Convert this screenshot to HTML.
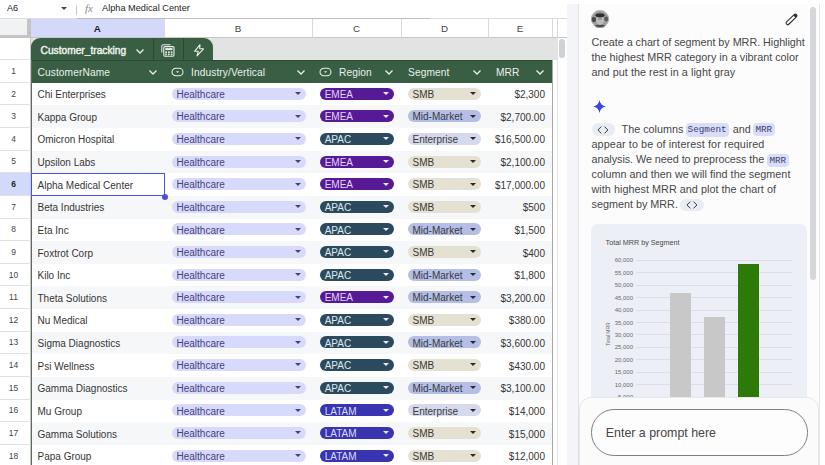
<!DOCTYPE html>
<html><head><meta charset="utf-8"><style>
*{box-sizing:border-box;margin:0;padding:0}
html,body{width:825px;height:465px;overflow:hidden;background:#fff;font-family:"Liberation Sans",sans-serif}
#sheet{position:absolute;left:0;top:0;width:567px;height:465px;overflow:hidden;background:#fff}
.rh{position:absolute;left:0;width:31px;padding-right:3px;font-size:8.5px;text-align:center;border-bottom:1px solid #e1e1e1;border-right:1px solid #c7c7c7;display:flex;align-items:center;justify-content:center}
.colh{position:absolute;top:19px;height:18.5px;padding-top:2.4px;font-size:9.8px;color:#444;display:flex;align-items:center;justify-content:center;border-right:1px solid #d9d9d9;border-bottom:1px solid #c7c7c7;background:#fff}
.tab{position:absolute;left:31px;width:182px;background:#3a5e44;border-radius:9px 9px 0 0}
.hdr{position:absolute;left:31px;width:521.5px;background:#3a5e44;border-top:1px solid #2b4c34}
.ht{position:absolute;font-size:10.2px;letter-spacing:0.1px;color:#e8f1ea;white-space:nowrap;line-height:13px}
.row{position:absolute;left:31px;width:521.5px;}
.ct{position:absolute;font-size:10px;color:#363636;white-space:nowrap;line-height:13px}
.chip{position:absolute;height:12px;border-radius:6px;font-size:10px;white-space:nowrap}
.chip span{position:absolute;top:0.2px;line-height:13px}
.pl{position:absolute;font-size:10.8px;color:#474747;line-height:15px;white-space:nowrap}
.mono{position:absolute;height:13.3px;border-radius:4px;background:#d9ddfa;color:#394070;font-family:'Liberation Mono',monospace;font-size:9.3px;line-height:14.6px;text-align:center}
.tri{position:absolute;width:0;height:0;border-left:3px solid transparent;border-right:3px solid transparent;border-top:3px solid #333}
</style></head><body>
<div id="sheet">
<!-- top bar -->
<div style="position:absolute;left:0;top:0;width:567px;height:19px;background:#fff"></div><div style="position:absolute;left:0;top:18.2px;width:77px;height:1px;background:#dcdcdc"></div><div style="position:absolute;left:77px;top:18.2px;width:353px;height:1px;background:#bdbdbd"></div><div style="position:absolute;left:430px;top:18.2px;width:137px;height:1px;background:#dedede"></div>
<span style="position:absolute;left:7px;top:3px;font-size:9px;color:#222;line-height:11px">A6</span>
<div class="tri" style="left:60.5px;top:7px;border-top-color:#444;border-left-width:3px;border-right-width:3px;border-top-width:3px"></div>
<div style="position:absolute;left:76px;top:5px;width:1px;height:10px;background:#c8c8c8"></div>
<span style="position:absolute;left:85px;top:2px;font-size:11px;color:#8a8a8a;font-style:italic;font-family:'Liberation Serif',serif;line-height:12px">fx</span>
<span style="position:absolute;left:102px;top:2.5px;font-size:9.2px;color:#222;line-height:11px">Alpha Medical Center</span>
<!-- column headers -->
<div style="position:absolute;left:0;top:19px;width:31px;height:18.6px;background:#f1f2f3"></div>
<div class="colh" style="left:31px;width:133.5px;background:#d3d9fb;font-weight:bold;color:#1f1f1f">A</div>
<div class="colh" style="left:164.5px;width:148px">B</div>
<div class="colh" style="left:312.5px;width:89px">C</div>
<div class="colh" style="left:401.5px;width:87px">D</div>
<div class="colh" style="left:488.5px;width:64px">E</div>
<div class="colh" style="left:552.5px;width:5px"></div><div class="colh" style="left:557.5px;width:10px;border-right:none"></div>
<div style="position:absolute;left:0;top:34.6px;width:31px;height:3px;background:#c4c4c4"></div>
<div style="position:absolute;left:27.2px;top:19px;width:3.5px;height:18.6px;background:#c4c4c4"></div>
<div class="rh" style="top:37.60px;height:22.62px;background:#fff;font-weight:normal;color:#444"></div>
<div class="rh" style="top:60.22px;height:22.62px;background:#fff;font-weight:normal;color:#444">1</div>
<div class="rh" style="top:82.84px;height:22.62px;background:#fff;font-weight:normal;color:#444">2</div>
<div class="rh" style="top:105.46px;height:22.62px;background:#fff;font-weight:normal;color:#444">3</div>
<div class="rh" style="top:128.08px;height:22.62px;background:#fff;font-weight:normal;color:#444">4</div>
<div class="rh" style="top:150.70px;height:22.62px;background:#fff;font-weight:normal;color:#444">5</div>
<div class="rh" style="top:173.32px;height:22.62px;background:#d3d9fb;font-weight:bold;color:#1f1f1f">6</div>
<div class="rh" style="top:195.94px;height:22.62px;background:#fff;font-weight:normal;color:#444">7</div>
<div class="rh" style="top:218.56px;height:22.62px;background:#fff;font-weight:normal;color:#444">8</div>
<div class="rh" style="top:241.18px;height:22.62px;background:#fff;font-weight:normal;color:#444">9</div>
<div class="rh" style="top:263.80px;height:22.62px;background:#fff;font-weight:normal;color:#444">10</div>
<div class="rh" style="top:286.42px;height:22.62px;background:#fff;font-weight:normal;color:#444">11</div>
<div class="rh" style="top:309.04px;height:22.62px;background:#fff;font-weight:normal;color:#444">12</div>
<div class="rh" style="top:331.66px;height:22.62px;background:#fff;font-weight:normal;color:#444">13</div>
<div class="rh" style="top:354.28px;height:22.62px;background:#fff;font-weight:normal;color:#444">14</div>
<div class="rh" style="top:376.90px;height:22.62px;background:#fff;font-weight:normal;color:#444">15</div>
<div class="rh" style="top:399.52px;height:22.62px;background:#fff;font-weight:normal;color:#444">16</div>
<div class="rh" style="top:422.14px;height:22.62px;background:#fff;font-weight:normal;color:#444">17</div>
<div class="rh" style="top:444.76px;height:22.62px;background:#fff;font-weight:normal;color:#444">18</div>
<div style="position:absolute;left:31px;top:37.60px;width:526px;height:22.62px;background:#e3e3e3"></div>
<div class="tab" style="top:38.20px;height:22.02px">
<span style="position:absolute;left:9.6px;top:7.2px;font-size:10.2px;line-height:12px;color:#e9f0ea;-webkit-text-stroke:0.45px #e9f0ea">Customer_tracking</span>
<svg style="position:absolute;left:104px;top:9.5px" width="10" height="7" viewBox="0 0 10 7"><path d="M1.5 1.5 L5 5 L8.5 1.5" stroke="#e8f0ea" stroke-width="1.3" fill="none"/></svg>
<div style="position:absolute;left:121.5px;top:0px;width:1px;height:22px;background:#2b4a34"></div>
<svg style="position:absolute;left:130px;top:5.8px" width="15" height="13" viewBox="0 0 15 13"><path d="M0.8 8.5 V1.8 A1 1 0 0 1 1.8 0.8 H9.5" fill="none" stroke="#e8f0ea" stroke-width="1"/><rect x="2.8" y="2.6" width="10.2" height="9.6" rx="1.1" stroke="#e8f0ea" stroke-width="1.1" fill="none"/><rect x="4.3" y="4.1" width="7.2" height="2" fill="#e8f0ea"/><g fill="#e8f0ea"><rect x="4.3" y="7.4" width="1.7" height="1.6"/><rect x="7.05" y="7.4" width="1.7" height="1.6"/><rect x="9.8" y="7.4" width="1.7" height="1.6"/><rect x="4.3" y="9.6" width="1.7" height="1.6"/><rect x="7.05" y="9.6" width="1.7" height="1.6"/><rect x="9.8" y="9.6" width="1.7" height="1.6"/></g></svg>
<div style="position:absolute;left:152px;top:0px;width:1px;height:22px;background:#2b4a34"></div>
<svg style="position:absolute;left:162.5px;top:6px" width="11" height="13" viewBox="0 0 11 13"><path d="M6 0.7 L0.6 7.3 H4.3 L3 11.9 L9.5 4.8 H5.7 Z" stroke="#e8f0ea" stroke-width="1.1" fill="none" stroke-linejoin="round"/></svg>
</div>
<div class="hdr" style="top:60.22px;height:22.62px"></div>
<span class="ht" style="left:37.5px;top:65.73px">CustomerName</span>
<span class="ht" style="left:191px;top:65.73px">Industry/Vertical</span>
<span class="ht" style="left:339px;top:65.73px">Region</span>
<span class="ht" style="left:408px;top:65.73px">Segment</span>
<span class="ht" style="left:496px;top:65.73px">MRR</span>
<svg style="position:absolute;left:147.8px;top:69.03px" width="10" height="7" viewBox="0 0 10 7"><path d="M1.5 1.5 L5 5 L8.5 1.5" stroke="#e8f0ea" stroke-width="1.3" fill="none"/></svg>
<svg style="position:absolute;left:295.8px;top:69.03px" width="10" height="7" viewBox="0 0 10 7"><path d="M1.5 1.5 L5 5 L8.5 1.5" stroke="#e8f0ea" stroke-width="1.3" fill="none"/></svg>
<svg style="position:absolute;left:384.40000000000003px;top:69.03px" width="10" height="7" viewBox="0 0 10 7"><path d="M1.5 1.5 L5 5 L8.5 1.5" stroke="#e8f0ea" stroke-width="1.3" fill="none"/></svg>
<svg style="position:absolute;left:472.2px;top:69.03px" width="10" height="7" viewBox="0 0 10 7"><path d="M1.5 1.5 L5 5 L8.5 1.5" stroke="#e8f0ea" stroke-width="1.3" fill="none"/></svg>
<svg style="position:absolute;left:535.1999999999999px;top:69.03px" width="10" height="7" viewBox="0 0 10 7"><path d="M1.5 1.5 L5 5 L8.5 1.5" stroke="#e8f0ea" stroke-width="1.3" fill="none"/></svg>
<svg style="position:absolute;left:171.0px;top:66.53px" width="13" height="10" viewBox="0 0 13 10"><rect x="1" y="1.2" width="11" height="7.6" rx="3.8" stroke="#e8f0ea" stroke-width="1.05" fill="none"/><path d="M5 4.3 H8 L6.5 6 Z" fill="#e8f0ea"/></svg>
<svg style="position:absolute;left:319.1px;top:66.53px" width="13" height="10" viewBox="0 0 13 10"><rect x="1" y="1.2" width="11" height="7.6" rx="3.8" stroke="#e8f0ea" stroke-width="1.05" fill="none"/><path d="M5 4.3 H8 L6.5 6 Z" fill="#e8f0ea"/></svg>
<div class="row" style="top:82.84px;height:22.62px;background:#ffffff"></div>
<span class="ct" style="left:37.5px;top:88.25px">Chi Enterprises</span>
<div class="chip" style="left:172px;top:87.65px;width:133.5px;background:#d8dafc;color:#46417e"><span style="left:4.5px">Healthcare</span></div>
<div class="tri" style="left:294.6px;top:92.05000000000001px;border-top-color:#46417e"></div>
<div class="chip" style="left:320px;top:87.65px;width:73.7px;background:#571a96;color:#e2d2fb"><span style="left:4.7px">EMEA</span></div>
<div class="tri" style="left:382.6px;top:92.05000000000001px;border-top-color:#efe8ff"></div>
<div class="chip" style="left:408px;top:87.65px;width:73px;background:#e5e1d2;color:#3a3a3a"><span style="left:4.5px">SMB</span></div>
<div class="tri" style="left:470.2px;top:92.05000000000001px;border-top-color:#2a2a2a"></div>
<span class="ct" style="right:22px;top:88.25px">$2,300</span>
<div class="row" style="top:105.46px;height:22.62px;background:#f6f7f8"></div>
<span class="ct" style="left:37.5px;top:110.87px">Kappa Group</span>
<div class="chip" style="left:172px;top:110.27px;width:133.5px;background:#d8dafc;color:#46417e"><span style="left:4.5px">Healthcare</span></div>
<div class="tri" style="left:294.6px;top:114.67000000000002px;border-top-color:#46417e"></div>
<div class="chip" style="left:320px;top:110.27px;width:73.7px;background:#571a96;color:#e2d2fb"><span style="left:4.7px">EMEA</span></div>
<div class="tri" style="left:382.6px;top:114.67000000000002px;border-top-color:#efe8ff"></div>
<div class="chip" style="left:408px;top:110.27px;width:73px;background:#b4bee6;color:#3a3a3a"><span style="left:4.5px">Mid-Market</span></div>
<div class="tri" style="left:470.2px;top:114.67000000000002px;border-top-color:#2a2a2a"></div>
<span class="ct" style="right:22px;top:110.87px">$2,700.00</span>
<div class="row" style="top:128.08px;height:22.62px;background:#ffffff"></div>
<span class="ct" style="left:37.5px;top:133.49px">Omicron Hospital</span>
<div class="chip" style="left:172px;top:132.89px;width:133.5px;background:#d8dafc;color:#46417e"><span style="left:4.5px">Healthcare</span></div>
<div class="tri" style="left:294.6px;top:137.29000000000002px;border-top-color:#46417e"></div>
<div class="chip" style="left:320px;top:132.89px;width:73.7px;background:#2c4a5e;color:#dde8f0"><span style="left:4.7px">APAC</span></div>
<div class="tri" style="left:382.6px;top:137.29000000000002px;border-top-color:#efe8ff"></div>
<div class="chip" style="left:408px;top:132.89px;width:73px;background:#d6d9ec;color:#3a3a3a"><span style="left:4.5px">Enterprise</span></div>
<div class="tri" style="left:470.2px;top:137.29000000000002px;border-top-color:#2a2a2a"></div>
<span class="ct" style="right:22px;top:133.49px">$16,500.00</span>
<div class="row" style="top:150.70px;height:22.62px;background:#f6f7f8"></div>
<span class="ct" style="left:37.5px;top:156.11px">Upsilon Labs</span>
<div class="chip" style="left:172px;top:155.51px;width:133.5px;background:#d8dafc;color:#46417e"><span style="left:4.5px">Healthcare</span></div>
<div class="tri" style="left:294.6px;top:159.91000000000003px;border-top-color:#46417e"></div>
<div class="chip" style="left:320px;top:155.51px;width:73.7px;background:#571a96;color:#e2d2fb"><span style="left:4.7px">EMEA</span></div>
<div class="tri" style="left:382.6px;top:159.91000000000003px;border-top-color:#efe8ff"></div>
<div class="chip" style="left:408px;top:155.51px;width:73px;background:#e5e1d2;color:#3a3a3a"><span style="left:4.5px">SMB</span></div>
<div class="tri" style="left:470.2px;top:159.91000000000003px;border-top-color:#2a2a2a"></div>
<span class="ct" style="right:22px;top:156.11px">$2,100.00</span>
<div class="row" style="top:173.32px;height:22.62px;background:#ffffff"></div>
<span class="ct" style="left:37.5px;top:178.73px">Alpha Medical Center</span>
<div class="chip" style="left:172px;top:178.13px;width:133.5px;background:#d8dafc;color:#46417e"><span style="left:4.5px">Healthcare</span></div>
<div class="tri" style="left:294.6px;top:182.53px;border-top-color:#46417e"></div>
<div class="chip" style="left:320px;top:178.13px;width:73.7px;background:#571a96;color:#e2d2fb"><span style="left:4.7px">EMEA</span></div>
<div class="tri" style="left:382.6px;top:182.53px;border-top-color:#efe8ff"></div>
<div class="chip" style="left:408px;top:178.13px;width:73px;background:#e5e1d2;color:#3a3a3a"><span style="left:4.5px">SMB</span></div>
<div class="tri" style="left:470.2px;top:182.53px;border-top-color:#2a2a2a"></div>
<span class="ct" style="right:22px;top:178.73px">$17,000.00</span>
<div class="row" style="top:195.94px;height:22.62px;background:#f6f7f8"></div>
<span class="ct" style="left:37.5px;top:201.35px">Beta Industries</span>
<div class="chip" style="left:172px;top:200.75px;width:133.5px;background:#d8dafc;color:#46417e"><span style="left:4.5px">Healthcare</span></div>
<div class="tri" style="left:294.6px;top:205.15px;border-top-color:#46417e"></div>
<div class="chip" style="left:320px;top:200.75px;width:73.7px;background:#2c4a5e;color:#dde8f0"><span style="left:4.7px">APAC</span></div>
<div class="tri" style="left:382.6px;top:205.15px;border-top-color:#efe8ff"></div>
<div class="chip" style="left:408px;top:200.75px;width:73px;background:#e5e1d2;color:#3a3a3a"><span style="left:4.5px">SMB</span></div>
<div class="tri" style="left:470.2px;top:205.15px;border-top-color:#2a2a2a"></div>
<span class="ct" style="right:22px;top:201.35px">$500</span>
<div class="row" style="top:218.56px;height:22.62px;background:#ffffff"></div>
<span class="ct" style="left:37.5px;top:223.97px">Eta Inc</span>
<div class="chip" style="left:172px;top:223.37px;width:133.5px;background:#d8dafc;color:#46417e"><span style="left:4.5px">Healthcare</span></div>
<div class="tri" style="left:294.6px;top:227.77px;border-top-color:#46417e"></div>
<div class="chip" style="left:320px;top:223.37px;width:73.7px;background:#2c4a5e;color:#dde8f0"><span style="left:4.7px">APAC</span></div>
<div class="tri" style="left:382.6px;top:227.77px;border-top-color:#efe8ff"></div>
<div class="chip" style="left:408px;top:223.37px;width:73px;background:#b4bee6;color:#3a3a3a"><span style="left:4.5px">Mid-Market</span></div>
<div class="tri" style="left:470.2px;top:227.77px;border-top-color:#2a2a2a"></div>
<span class="ct" style="right:22px;top:223.97px">$1,500</span>
<div class="row" style="top:241.18px;height:22.62px;background:#f6f7f8"></div>
<span class="ct" style="left:37.5px;top:246.59px">Foxtrot Corp</span>
<div class="chip" style="left:172px;top:245.99px;width:133.5px;background:#d8dafc;color:#46417e"><span style="left:4.5px">Healthcare</span></div>
<div class="tri" style="left:294.6px;top:250.39000000000001px;border-top-color:#46417e"></div>
<div class="chip" style="left:320px;top:245.99px;width:73.7px;background:#2c4a5e;color:#dde8f0"><span style="left:4.7px">APAC</span></div>
<div class="tri" style="left:382.6px;top:250.39000000000001px;border-top-color:#efe8ff"></div>
<div class="chip" style="left:408px;top:245.99px;width:73px;background:#e5e1d2;color:#3a3a3a"><span style="left:4.5px">SMB</span></div>
<div class="tri" style="left:470.2px;top:250.39000000000001px;border-top-color:#2a2a2a"></div>
<span class="ct" style="right:22px;top:246.59px">$400</span>
<div class="row" style="top:263.80px;height:22.62px;background:#ffffff"></div>
<span class="ct" style="left:37.5px;top:269.21px">Kilo Inc</span>
<div class="chip" style="left:172px;top:268.61px;width:133.5px;background:#d8dafc;color:#46417e"><span style="left:4.5px">Healthcare</span></div>
<div class="tri" style="left:294.6px;top:273.01px;border-top-color:#46417e"></div>
<div class="chip" style="left:320px;top:268.61px;width:73.7px;background:#2c4a5e;color:#dde8f0"><span style="left:4.7px">APAC</span></div>
<div class="tri" style="left:382.6px;top:273.01px;border-top-color:#efe8ff"></div>
<div class="chip" style="left:408px;top:268.61px;width:73px;background:#b4bee6;color:#3a3a3a"><span style="left:4.5px">Mid-Market</span></div>
<div class="tri" style="left:470.2px;top:273.01px;border-top-color:#2a2a2a"></div>
<span class="ct" style="right:22px;top:269.21px">$1,800</span>
<div class="row" style="top:286.42px;height:22.62px;background:#f6f7f8"></div>
<span class="ct" style="left:37.5px;top:291.83px">Theta Solutions</span>
<div class="chip" style="left:172px;top:291.23px;width:133.5px;background:#d8dafc;color:#46417e"><span style="left:4.5px">Healthcare</span></div>
<div class="tri" style="left:294.6px;top:295.63px;border-top-color:#46417e"></div>
<div class="chip" style="left:320px;top:291.23px;width:73.7px;background:#571a96;color:#e2d2fb"><span style="left:4.7px">EMEA</span></div>
<div class="tri" style="left:382.6px;top:295.63px;border-top-color:#efe8ff"></div>
<div class="chip" style="left:408px;top:291.23px;width:73px;background:#b4bee6;color:#3a3a3a"><span style="left:4.5px">Mid-Market</span></div>
<div class="tri" style="left:470.2px;top:295.63px;border-top-color:#2a2a2a"></div>
<span class="ct" style="right:22px;top:291.83px">$3,200.00</span>
<div class="row" style="top:309.04px;height:22.62px;background:#ffffff"></div>
<span class="ct" style="left:37.5px;top:314.45px">Nu Medical</span>
<div class="chip" style="left:172px;top:313.85px;width:133.5px;background:#d8dafc;color:#46417e"><span style="left:4.5px">Healthcare</span></div>
<div class="tri" style="left:294.6px;top:318.25px;border-top-color:#46417e"></div>
<div class="chip" style="left:320px;top:313.85px;width:73.7px;background:#2c4a5e;color:#dde8f0"><span style="left:4.7px">APAC</span></div>
<div class="tri" style="left:382.6px;top:318.25px;border-top-color:#efe8ff"></div>
<div class="chip" style="left:408px;top:313.85px;width:73px;background:#e5e1d2;color:#3a3a3a"><span style="left:4.5px">SMB</span></div>
<div class="tri" style="left:470.2px;top:318.25px;border-top-color:#2a2a2a"></div>
<span class="ct" style="right:22px;top:314.45px">$380.00</span>
<div class="row" style="top:331.66px;height:22.62px;background:#f6f7f8"></div>
<span class="ct" style="left:37.5px;top:337.07px">Sigma Diagnostics</span>
<div class="chip" style="left:172px;top:336.47px;width:133.5px;background:#d8dafc;color:#46417e"><span style="left:4.5px">Healthcare</span></div>
<div class="tri" style="left:294.6px;top:340.87px;border-top-color:#46417e"></div>
<div class="chip" style="left:320px;top:336.47px;width:73.7px;background:#2c4a5e;color:#dde8f0"><span style="left:4.7px">APAC</span></div>
<div class="tri" style="left:382.6px;top:340.87px;border-top-color:#efe8ff"></div>
<div class="chip" style="left:408px;top:336.47px;width:73px;background:#b4bee6;color:#3a3a3a"><span style="left:4.5px">Mid-Market</span></div>
<div class="tri" style="left:470.2px;top:340.87px;border-top-color:#2a2a2a"></div>
<span class="ct" style="right:22px;top:337.07px">$3,600.00</span>
<div class="row" style="top:354.28px;height:22.62px;background:#ffffff"></div>
<span class="ct" style="left:37.5px;top:359.69px">Psi Wellness</span>
<div class="chip" style="left:172px;top:359.09px;width:133.5px;background:#d8dafc;color:#46417e"><span style="left:4.5px">Healthcare</span></div>
<div class="tri" style="left:294.6px;top:363.49px;border-top-color:#46417e"></div>
<div class="chip" style="left:320px;top:359.09px;width:73.7px;background:#2c4a5e;color:#dde8f0"><span style="left:4.7px">APAC</span></div>
<div class="tri" style="left:382.6px;top:363.49px;border-top-color:#efe8ff"></div>
<div class="chip" style="left:408px;top:359.09px;width:73px;background:#e5e1d2;color:#3a3a3a"><span style="left:4.5px">SMB</span></div>
<div class="tri" style="left:470.2px;top:363.49px;border-top-color:#2a2a2a"></div>
<span class="ct" style="right:22px;top:359.69px">$430.00</span>
<div class="row" style="top:376.90px;height:22.62px;background:#f6f7f8"></div>
<span class="ct" style="left:37.5px;top:382.31px">Gamma Diagnostics</span>
<div class="chip" style="left:172px;top:381.71px;width:133.5px;background:#d8dafc;color:#46417e"><span style="left:4.5px">Healthcare</span></div>
<div class="tri" style="left:294.6px;top:386.11px;border-top-color:#46417e"></div>
<div class="chip" style="left:320px;top:381.71px;width:73.7px;background:#2c4a5e;color:#dde8f0"><span style="left:4.7px">APAC</span></div>
<div class="tri" style="left:382.6px;top:386.11px;border-top-color:#efe8ff"></div>
<div class="chip" style="left:408px;top:381.71px;width:73px;background:#b4bee6;color:#3a3a3a"><span style="left:4.5px">Mid-Market</span></div>
<div class="tri" style="left:470.2px;top:386.11px;border-top-color:#2a2a2a"></div>
<span class="ct" style="right:22px;top:382.31px">$3,100.00</span>
<div class="row" style="top:399.52px;height:22.62px;background:#ffffff"></div>
<span class="ct" style="left:37.5px;top:404.93px">Mu Group</span>
<div class="chip" style="left:172px;top:404.33px;width:133.5px;background:#d8dafc;color:#46417e"><span style="left:4.5px">Healthcare</span></div>
<div class="tri" style="left:294.6px;top:408.73px;border-top-color:#46417e"></div>
<div class="chip" style="left:320px;top:404.33px;width:73.7px;background:#3934b0;color:#dcdcff"><span style="left:4.7px">LATAM</span></div>
<div class="tri" style="left:382.6px;top:408.73px;border-top-color:#efe8ff"></div>
<div class="chip" style="left:408px;top:404.33px;width:73px;background:#d6d9ec;color:#3a3a3a"><span style="left:4.5px">Enterprise</span></div>
<div class="tri" style="left:470.2px;top:408.73px;border-top-color:#2a2a2a"></div>
<span class="ct" style="right:22px;top:404.93px">$14,000</span>
<div class="row" style="top:422.14px;height:22.62px;background:#f6f7f8"></div>
<span class="ct" style="left:37.5px;top:427.55px">Gamma Solutions</span>
<div class="chip" style="left:172px;top:426.95px;width:133.5px;background:#d8dafc;color:#46417e"><span style="left:4.5px">Healthcare</span></div>
<div class="tri" style="left:294.6px;top:431.35px;border-top-color:#46417e"></div>
<div class="chip" style="left:320px;top:426.95px;width:73.7px;background:#3934b0;color:#dcdcff"><span style="left:4.7px">LATAM</span></div>
<div class="tri" style="left:382.6px;top:431.35px;border-top-color:#efe8ff"></div>
<div class="chip" style="left:408px;top:426.95px;width:73px;background:#e5e1d2;color:#3a3a3a"><span style="left:4.5px">SMB</span></div>
<div class="tri" style="left:470.2px;top:431.35px;border-top-color:#2a2a2a"></div>
<span class="ct" style="right:22px;top:427.55px">$15,000</span>
<div class="row" style="top:444.76px;height:22.62px;background:#ffffff"></div>
<span class="ct" style="left:37.5px;top:450.17px">Papa Group</span>
<div class="chip" style="left:172px;top:449.57px;width:133.5px;background:#d8dafc;color:#46417e"><span style="left:4.5px">Healthcare</span></div>
<div class="tri" style="left:294.6px;top:453.97px;border-top-color:#46417e"></div>
<div class="chip" style="left:320px;top:449.57px;width:73.7px;background:#3934b0;color:#dcdcff"><span style="left:4.7px">LATAM</span></div>
<div class="tri" style="left:382.6px;top:453.97px;border-top-color:#efe8ff"></div>
<div class="chip" style="left:408px;top:449.57px;width:73px;background:#e5e1d2;color:#3a3a3a"><span style="left:4.5px">SMB</span></div>
<div class="tri" style="left:470.2px;top:453.97px;border-top-color:#2a2a2a"></div>
<span class="ct" style="right:22px;top:450.17px">$12,000</span>
<!-- table left border -->
<div style="position:absolute;left:30.5px;top:60px;width:1.2px;height:410px;background:#5d6a61"></div>
<div style="position:absolute;left:552px;top:60px;width:1px;height:410px;background:#a3a7a5"></div>
<!-- selection -->
<div style="position:absolute;left:31.3px;top:173.32px;width:133.7px;height:22.92px;border:1.4px solid #4b50d8"></div>
<div style="position:absolute;left:161.5px;top:193.64px;width:6px;height:6px;border-radius:3px;background:#4b50d8"></div>
<!-- scrollbar -->
<div style="position:absolute;left:557px;top:37.6px;width:10px;height:430px;background:#fff;border-left:1px solid #e3e3e3"></div>
<div style="position:absolute;left:559.3px;top:39px;width:5.8px;height:19px;border-radius:3px;background:#cfd1d4"></div>
</div>
<!-- side panel -->
<div style="position:absolute;left:567px;top:4px;width:11.5px;height:461px;background:#f4f5f8"></div>
<div style="position:absolute;left:578px;top:4px;width:1px;height:461px;background:#dfe1e5"></div>
<div id="panel" style="position:absolute;left:579px;top:4px;width:240px;height:461px;background:#fcfcfd;overflow:hidden">
</div>
<svg style="position:absolute;left:591.2px;top:10.3px" width="18" height="18" viewBox="0 0 18 18"><defs><clipPath id="avc"><circle cx="9" cy="9" r="9"/></clipPath><filter id="avb" x="-20%" y="-20%" width="140%" height="140%"><feGaussianBlur stdDeviation="0.55"/></filter></defs><g clip-path="url(#avc)"><rect width="18" height="18" fill="#9d9d9d"/><g filter="url(#avb)"><circle cx="2.5" cy="9.5" r="2.6" fill="#4a4a4a"/><circle cx="15.5" cy="9" r="2.4" fill="#5a5a5a"/><ellipse cx="9" cy="18.5" rx="7.5" ry="4" fill="#474747"/><ellipse cx="9" cy="10" rx="4" ry="5" fill="#bcbcbc"/><ellipse cx="9" cy="5.3" rx="4.6" ry="2.1" fill="#2e2e2e"/><rect x="7" y="8.5" width="4" height="1" fill="#777"/></g></g><circle cx="9" cy="9" r="8.6" fill="none" stroke="#cfcfcf" stroke-width="0.6"/></svg>
<svg style="position:absolute;left:783px;top:11px" width="17" height="17" viewBox="0 0 17 17"><g transform="rotate(-44 8.5 8.4)"><rect x="1.6" y="6.8" width="13.8" height="3.2" rx="1.6" fill="none" stroke="#333" stroke-width="1.15"/><path d="M12.6 6.8 H13.8 A1.6 1.6 0 0 1 15.4 8.4 A1.6 1.6 0 0 1 13.8 10 H12.6 Z" fill="#333"/></g></svg>
<div class="pl" style="left:591.5px;top:34.60px;letter-spacing:-0.037px">Create a chart of segment by MRR. Highlight</div>
<div class="pl" style="left:591.5px;top:49.50px;letter-spacing:0px">the highest MRR category in a vibrant color</div>
<div class="pl" style="left:591.5px;top:64.50px;letter-spacing:0.047px">and put the rest in a light gray</div>
<svg style="position:absolute;left:593.4px;top:100.2px" width="13" height="13" viewBox="0 0 24 24"><path d="M12 0 C13.2 7 17 10.8 24 12 C17 13.2 13.2 17 12 24 C10.8 17 7 13.2 0 12 C7 10.8 10.8 7 12 0 Z" fill="#3d44e2"/></svg>
<div style="position:absolute;left:591.7px;top:123px;width:23.3px;height:12.6px;border-radius:6.3px;background:#eaecf4"><svg style="position:absolute;left:5.6px;top:2.6px" width="12" height="8" viewBox="0 0 12 8"><path d="M4.3 0.6 L0.9 4 L4.3 7.4 M7.5 0.6 L10.9 4 L7.5 7.4" fill="none" stroke="#3a3a3a" stroke-width="1"/></svg></div>
<div class="pl" style="left:621.6px;top:122.00px;">The columns</div>
<div class="mono" style="left:685.5px;top:123.3px;width:43.3px">Segment</div>
<div class="pl" style="left:732.7px;top:122.00px;">and</div>
<div class="mono" style="left:753px;top:123.2px;width:21.6px">MRR</div>
<div class="pl" style="left:591.5px;top:137.30px;letter-spacing:0.097px">appear to be of interest for required</div>
<div class="pl" style="left:591.5px;top:152.30px;letter-spacing:-0.049px">analysis. We need to preprocess the</div>
<div class="mono" style="left:767px;top:153.7px;width:21.6px">MRR</div>
<div class="pl" style="left:591.5px;top:167.30px;letter-spacing:0.037px">column and then we will find the segment</div>
<div class="pl" style="left:591.5px;top:182.30px;letter-spacing:0.039px">with highest MRR and plot the chart of</div>
<div class="pl" style="left:591.5px;top:197.30px;">segment by MRR.</div>
<div style="position:absolute;left:680.4px;top:198.8px;width:23.3px;height:12.6px;border-radius:6.3px;background:#eaecf4"><svg style="position:absolute;left:5.6px;top:2.6px" width="12" height="8" viewBox="0 0 12 8"><path d="M4.3 0.6 L0.9 4 L4.3 7.4 M7.5 0.6 L10.9 4 L7.5 7.4" fill="none" stroke="#3a3a3a" stroke-width="1"/></svg></div>
<div style="position:absolute;left:591.3px;top:224.1px;width:215.7px;height:240px;border-radius:7px;background:#edeff7"></div>
<div style="position:absolute;left:605.6px;top:237.6px;font-size:7.2px;color:#474747;line-height:9px;white-space:nowrap">Total MRR by Segment</div>
<div style="position:absolute;right:192px;top:257.40px;font-size:6px;color:#6a6a6a;line-height:7px;white-space:nowrap">60,000</div>
<div style="position:absolute;left:635.8px;top:259.90px;width:156.7px;height:0.8px;background:#dcdde6"></div>
<div style="position:absolute;right:192px;top:269.82px;font-size:6px;color:#6a6a6a;line-height:7px;white-space:nowrap">55,000</div>
<div style="position:absolute;left:635.8px;top:272.32px;width:156.7px;height:0.8px;background:#dcdde6"></div>
<div style="position:absolute;right:192px;top:282.24px;font-size:6px;color:#6a6a6a;line-height:7px;white-space:nowrap">50,000</div>
<div style="position:absolute;left:635.8px;top:284.74px;width:156.7px;height:0.8px;background:#dcdde6"></div>
<div style="position:absolute;right:192px;top:294.66px;font-size:6px;color:#6a6a6a;line-height:7px;white-space:nowrap">45,000</div>
<div style="position:absolute;left:635.8px;top:297.16px;width:156.7px;height:0.8px;background:#dcdde6"></div>
<div style="position:absolute;right:192px;top:307.08px;font-size:6px;color:#6a6a6a;line-height:7px;white-space:nowrap">40,000</div>
<div style="position:absolute;left:635.8px;top:309.58px;width:156.7px;height:0.8px;background:#dcdde6"></div>
<div style="position:absolute;right:192px;top:319.50px;font-size:6px;color:#6a6a6a;line-height:7px;white-space:nowrap">35,000</div>
<div style="position:absolute;left:635.8px;top:322.00px;width:156.7px;height:0.8px;background:#dcdde6"></div>
<div style="position:absolute;right:192px;top:331.92px;font-size:6px;color:#6a6a6a;line-height:7px;white-space:nowrap">30,000</div>
<div style="position:absolute;left:635.8px;top:334.42px;width:156.7px;height:0.8px;background:#dcdde6"></div>
<div style="position:absolute;right:192px;top:344.34px;font-size:6px;color:#6a6a6a;line-height:7px;white-space:nowrap">25,000</div>
<div style="position:absolute;left:635.8px;top:346.84px;width:156.7px;height:0.8px;background:#dcdde6"></div>
<div style="position:absolute;right:192px;top:356.76px;font-size:6px;color:#6a6a6a;line-height:7px;white-space:nowrap">20,000</div>
<div style="position:absolute;left:635.8px;top:359.26px;width:156.7px;height:0.8px;background:#dcdde6"></div>
<div style="position:absolute;right:192px;top:369.18px;font-size:6px;color:#6a6a6a;line-height:7px;white-space:nowrap">15,000</div>
<div style="position:absolute;left:635.8px;top:371.68px;width:156.7px;height:0.8px;background:#dcdde6"></div>
<div style="position:absolute;right:192px;top:381.60px;font-size:6px;color:#6a6a6a;line-height:7px;white-space:nowrap">10,000</div>
<div style="position:absolute;left:635.8px;top:384.10px;width:156.7px;height:0.8px;background:#dcdde6"></div>
<div style="position:absolute;right:192px;top:394.02px;font-size:6px;color:#6a6a6a;line-height:7px;white-space:nowrap">5,000</div>
<div style="position:absolute;left:635.8px;top:396.52px;width:156.7px;height:0.8px;background:#dcdde6"></div>
<div style="position:absolute;left:607.9px;top:334.2px;font-size:5px;color:#666;line-height:6px;white-space:nowrap;transform:translate(-50%,-50%) rotate(-90deg)">Total MRR</div>
<div style="position:absolute;left:670.3px;top:293.4px;width:20.6px;height:180px;background:#c8c8c8"></div>
<div style="position:absolute;left:704.3px;top:316.7px;width:20.5px;height:180px;background:#c8c8c8"></div>
<div style="position:absolute;left:738.2px;top:264.2px;width:20.6px;height:210px;background:#2e7a09"></div>
<div style="position:absolute;left:578.5px;top:397.4px;width:240.5px;height:80px;border-radius:12px 12px 0 0;background:#fbfbfc;border:1px solid #e6e7ea"></div>
<div style="position:absolute;left:590.5px;top:409.4px;width:217.5px;height:46.3px;border-radius:23.2px;border:1px solid #7f7f7f;background:#fdfdfd"></div>
<div style="position:absolute;left:605.8px;top:425.6px;font-size:12.4px;color:#454545;line-height:14px;white-space:nowrap">Enter a prompt here</div>
<div style="position:absolute;left:809.7px;top:7px;width:6.3px;height:273px;border-radius:3.2px;background:#d5d7db"></div>
<div style="position:absolute;left:818.5px;top:4px;width:1px;height:461px;background:#e2e4e8"></div>
</body></html>
